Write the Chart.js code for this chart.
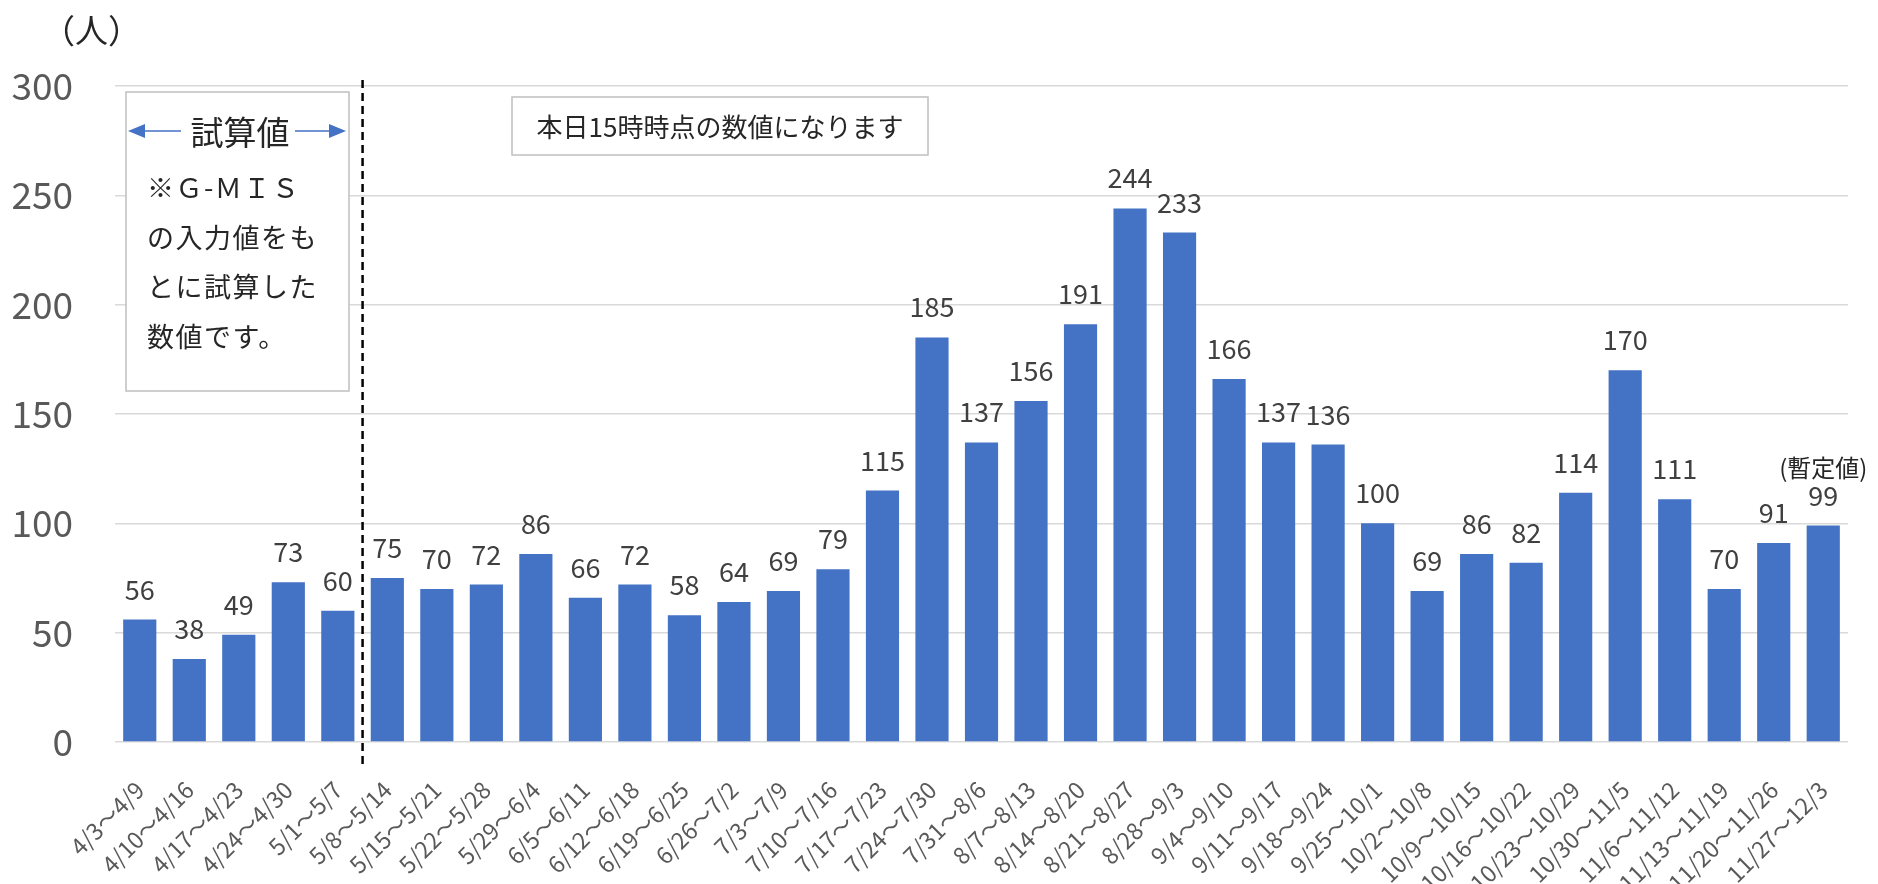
<!DOCTYPE html>
<html>
<head>
<meta charset="utf-8">
<script src="https://cdn.jsdelivr.net/npm/chart.js@4/dist/chart.umd.min.js"></script>
<style>
  html, body { margin: 0; padding: 0; background: #fff; }
  #wrap { width: 1878px; height: 884px; position: relative; }
</style>
</head>
<body>
<div id="wrap"><canvas id="myChart" width="1878" height="884"></canvas></div>
<script>
const weeks = [
  "4/3〜4/9", "4/10〜4/16", "4/17〜4/23", "4/24〜4/30", "5/1〜5/7",
  "5/8〜5/14", "5/15〜5/21", "5/22〜5/28", "5/29〜6/4", "6/5〜6/11",
  "6/12〜6/18", "6/19〜6/25", "6/26〜7/2", "7/3〜7/9", "7/10〜7/16",
  "7/17〜7/23", "7/24〜7/30", "7/31〜8/6", "8/7〜8/13", "8/14〜8/20",
  "8/21〜8/27", "8/28〜9/3", "9/4〜9/10", "9/11〜9/17", "9/18〜9/24",
  "9/25〜10/1", "10/2〜10/8", "10/9〜10/15", "10/16〜10/22", "10/23〜10/29",
  "10/30〜11/5", "11/6〜11/12", "11/13〜11/19", "11/20〜11/26", "11/27〜12/3"
];
const patients = [
  56, 38, 49, 73, 60,
  75, 70, 72, 86, 66,
  72, 58, 64, 69, 79,
  115, 185, 137, 156, 191,
  244, 233, 166, 137, 136,
  100, 69, 86, 82, 114,
  170, 111, 70, 91, 99
];
const yTicks = [0, 50, 100, 150, 200, 250, 300];
const estimateCount = 5; // first 5 weeks are estimates
const noteLines = ["※Ｇ-ＭＩＳ", "の入力値をも", "とに試算した", "数値です。"];

const JP = '"Noto Sans CJK JP", "Noto Sans", sans-serif';

// value labels above each bar
const valueLabels = {
  id: "valueLabels",
  afterDatasetsDraw(chart) {
    const ctx = chart.ctx;
    const meta = chart.getDatasetMeta(0);
    ctx.save();
    ctx.font = "27px " + JP;
    ctx.fillStyle = "#404040";
    ctx.textAlign = "center";
    ctx.textBaseline = "alphabetic";
    meta.data.forEach((bar, i) => {
      ctx.fillText(String(patients[i]), bar.x, bar.y - 20);
    });
    // provisional note above last bar
    const last = meta.data[meta.data.length - 1];
    ctx.font = "24px " + JP;
    ctx.fillStyle = "#262626";
    ctx.fillText("(暫定値)", last.x, last.y - 49);
    ctx.restore();
  },
};

// dashed separator, boxes and unit
const annotations = {
  id: "annotations",
  afterDraw(chart) {
    const ctx = chart.ctx;
    const x = chart.scales.x;
    const area = chart.chartArea;
    ctx.save();

    // unit
    ctx.font = "33px " + JP;
    ctx.fillStyle = "#262626";
    ctx.textAlign = "left";
    ctx.textBaseline = "middle";
    ctx.fillText("（人）", 42, 30);

    // dashed line between estimates and the rest
    const sepX = (x.getPixelForValue(estimateCount - 1) + x.getPixelForValue(estimateCount)) / 2;
    ctx.strokeStyle = "#000";
    ctx.lineWidth = 2.5;
    ctx.setLineDash([8, 5]);
    ctx.beginPath();
    ctx.moveTo(sepX, area.top - 6);
    ctx.lineTo(sepX, area.bottom + 22);
    ctx.stroke();
    ctx.setLineDash([]);

    // left note box
    const bx = 126, by = 92, bw = 223, bh = 299;
    ctx.fillStyle = "#fff";
    ctx.fillRect(bx, by, bw, bh);
    ctx.strokeStyle = "#bfbfbf";
    ctx.lineWidth = 1.5;
    ctx.strokeRect(bx, by, bw, bh);

    ctx.font = "33px " + JP;
    ctx.fillStyle = "#262626";
    ctx.textAlign = "center";
    ctx.fillText("試算値", 240, 132);

    // arrows
    ctx.strokeStyle = "#4472c4";
    ctx.fillStyle = "#4472c4";
    ctx.lineWidth = 1.5;
    ctx.beginPath();
    ctx.moveTo(140, 131); ctx.lineTo(181, 131);
    ctx.moveTo(295, 131); ctx.lineTo(333, 131);
    ctx.stroke();
    ctx.beginPath();
    ctx.moveTo(128, 131); ctx.lineTo(145, 124); ctx.lineTo(145, 138); ctx.closePath();
    ctx.moveTo(346, 131); ctx.lineTo(329, 124); ctx.lineTo(329, 138); ctx.closePath();
    ctx.fill();

    ctx.fillStyle = "#262626";
    ctx.font = "27px " + JP;
    ctx.textAlign = "left";
    ctx.letterSpacing = "1.5px";
    noteLines.forEach((line, i) => {
      ctx.fillText(line, 147, 188 + i * 49.5);
    });
    ctx.letterSpacing = "0px";

    // top note box
    ctx.fillStyle = "#fff";
    ctx.fillRect(512, 97, 416, 58);
    ctx.strokeStyle = "#bfbfbf";
    ctx.strokeRect(512, 97, 416, 58);
    ctx.fillStyle = "#262626";
    ctx.font = "26px " + JP;
    ctx.textAlign = "center";
    ctx.fillText("本日15時時点の数値になります", 720, 127);

    ctx.restore();
  },
};

const config = {
  type: "bar",
  data: {
    labels: weeks,
    datasets: [
      {
        data: patients,
        backgroundColor: "#4472c4",
        borderWidth: 0,
        barPercentage: 0.67,
        categoryPercentage: 1.0,
      },
    ],
  },
  options: {
    responsive: false,
    animation: false,
    devicePixelRatio: 1,
    layout: { padding: { top: 86, right: 30, left: 0, bottom: 0 } },
    plugins: {
      legend: { display: false },
      tooltip: { enabled: false },
    },
    scales: {
      x: {
        grid: { display: false, drawTicks: false },
        border: { display: false },
        afterFit: (scale) => { scale.height = 142; },
        ticks: {
          autoSkip: false,
          minRotation: 45,
          maxRotation: 45,
          padding: 34,
          color: "#595959",
          font: { family: JP, size: 23 },
        },
      },
      y: {
        min: 0,
        max: 300,
        afterFit: (scale) => { scale.width = 115; },
        afterBuildTicks: (scale) => {
          scale.ticks = yTicks.map((v) => ({ value: v }));
        },
        grid: { color: "#d9d9d9", lineWidth: 1.5, drawTicks: false },
        border: { display: false },
        ticks: {
          padding: 42,
          color: "#595959",
          font: { family: JP, size: 37 },
        },
      },
    },
  },
  plugins: [valueLabels, annotations],
};

var myChart = new Chart(document.getElementById("myChart"), config);
</script>
</body>
</html>
